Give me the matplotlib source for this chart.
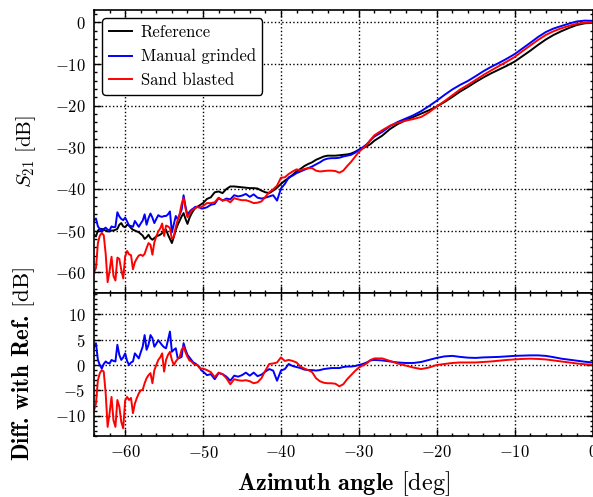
import numpy as np
import matplotlib
matplotlib.use("Agg")
import matplotlib.pyplot as plt
from matplotlib.ticker import MultipleLocator

plt.rcParams['font.family'] = 'serif'
plt.rcParams['font.serif'] = ['cmr10']
plt.rcParams['mathtext.fontset'] = 'cm'
plt.rcParams['axes.formatter.use_mathtext'] = True
plt.rcParams['axes.unicode_minus'] = True

# azimuth grid: fine in the noisy part, coarse where it is smooth
angle = np.concatenate([np.arange(-64, -49.99, 0.25),
                        np.arange(-49.5, -27.99, 0.5),
                        np.arange(-27, 0.01, 1.0)])

# reference S21 [dB]
s21_ref = [
    -51.0, -51.4, -50.0, -49.6,
    -49.6, -49.8, -50.0, -50.2,
    -50.2, -50.0, -50.0, -49.8,
    -49.6, -48.6, -48.2, -49.0,
    -49.2, -48.6, -48.8, -49.4,
    -49.8, -50.0, -50.2, -50.4,
    -50.8, -51.2, -52.0, -51.6,
    -51.0, -51.8, -52.2, -51.8,
    -51.4, -51.2, -51.0, -50.6,
    -50.0, -49.8, -51.0, -52.0,
    -53.0, -51.5, -49.8, -48.6,
    -47.6, -46.6, -45.8, -47.2,
    -48.4, -47.0, -46.0, -45.2,
    -44.6, -44.3, -44.0, -43.7,
    -43.4,
    # -49.5 .. -28 (0.5 deg)
    -42.4, -42.0, -40.8, -40.6, -41.0, -40.0, -39.4, -39.4, -39.5, -39.6,
    -39.7, -39.8, -39.8, -39.9, -40.4, -40.8, -41.0, -40.4, -39.7, -38.8,
    -38.0, -37.4, -36.6, -35.8, -35.2, -34.5, -34.0, -33.6, -33.0, -32.6,
    -32.2, -32.0, -32.0, -32.0, -31.9, -31.8, -31.7, -31.5, -31.1, -30.6,
    -30.2, -29.8, -29.2, -28.4,
    # -27 .. 0 (1 deg)
    -27.2, -25.6, -24.4, -23.5, -22.7, -21.9, -21.1, -20.2, -19.1, -17.9,
    -16.6, -15.5, -14.3, -13.2, -12.2, -11.3, -10.4, -9.4, -8.1, -6.8,
    -5.4, -4.1, -3.0, -2.1, -1.3, -0.6, -0.2, -0.1,
]

# difference with reference, manual grinded [dB]
diff_manual = [
    3.5, 4.3, 1.0, 0.0,
    -0.7, 0.2, 0.7, 0.4,
    0.3, 1.0, 0.8, 0.7,
    4.0, 2.0, 1.0, 1.5,
    2.3, 0.8, 0.0, 0.5,
    0.7, 2.3, 1.8, 1.3,
    2.5, 3.6, 5.9, 3.0,
    4.0, 5.9, 5.3, 3.6,
    4.2, 4.9, 4.4, 3.9,
    3.5, 3.3, 4.9, 6.6,
    2.6, 3.0, 3.3, 1.3,
    1.4, 1.6, 4.3, 3.0,
    2.0, 1.5, 1.0, 0.5,
    0.3, 0.0, -0.3, -1.0,
    -1.3,
    -2.0, -1.8, -2.8, -1.6, -1.8, -2.3, -3.1, -2.1, -2.3, -2.0,
    -1.5, -2.1, -1.5, -2.2, -1.9, -1.3, -0.8, -1.1, -3.1, -1.1,
    -0.8, 0.2, -0.2, -0.4, -0.6, -0.9, -1.0, -1.0, -1.1, -1.0,
    -0.8, -0.7, -0.6, -0.6, -0.6, -0.4, -0.3, -0.3, -0.2, 0.0,
    0.2, 0.5, 0.9, 1.0,
    0.9, 0.7, 0.5, 0.4, 0.4, 0.6, 1.0, 1.4, 1.7, 1.8,
    1.6, 1.45, 1.4, 1.5, 1.55, 1.6, 1.7, 1.8, 1.85, 1.9,
    1.9, 1.8, 1.55, 1.25, 1.05, 0.85, 0.65, 0.5,
]

# difference with reference, sand blasted [dB]
diff_sand = [
    -9.0, -7.6, -3.0, -1.6,
    -1.0, -1.3, -5.6, -12.2,
    -9.5, -6.3, -10.9, -12.2,
    -6.9, -8.2, -11.2, -12.5,
    -7.0, -6.3, -6.9, -6.5,
    -9.5, -7.6, -6.5, -5.6,
    -5.0, -4.9, -3.6, -2.6,
    -2.0, -1.6, -3.6, -1.0,
    0.0, 1.0, 1.5, 2.3,
    -1.3, 1.0, 2.0, 2.6,
    1.0, 0.0, 0.7, 1.2,
    1.6, 3.0, 3.6, 2.5,
    1.6, 0.9, 0.7, 0.3,
    0.0, 0.0, -0.5, -0.7,
    -0.7,
    -1.0, -1.4, -2.4, -1.5, -1.8, -2.6, -3.8, -2.8, -3.0, -3.1,
    -3.0, -3.2, -3.6, -3.4, -2.6, -1.1, 0.2, 0.3, 0.5, 1.5,
    0.8, 1.0, 0.8, 0.5, -0.3, -0.7, -1.0, -1.4, -2.6, -3.2,
    -3.5, -3.6, -3.6, -3.7, -4.2, -3.8, -2.8, -2.0, -1.2, -0.5,
    -0.1, 0.3, 1.0, 1.3,
    1.3, 0.8, 0.3, -0.1, -0.5, -0.8, -0.5, 0.0, 0.2, 0.4,
    0.5, 0.5, 0.5, 0.6, 0.7, 0.85, 1.0, 1.1, 1.2, 1.25,
    1.2, 1.1, 0.9, 0.7, 0.5, 0.3, 0.15, 0.05,
]

s21_ref = np.array(s21_ref)
diff_manual = np.array(diff_manual)
diff_sand = np.array(diff_sand)
s21_manual = s21_ref + diff_manual
s21_sand = s21_ref + diff_sand

W, H = 593, 497
fig = plt.figure(figsize=(W / 100, H / 100), dpi=100)
left, right = 94 / W, 592.5 / W
ax1 = fig.add_axes([left, 1 - 293 / H, right - left, (293 - 10) / H])
ax2 = fig.add_axes([left, 1 - 436 / H, right - left, (436 - 293) / H], sharex=ax1)

lw = 1.4
ax1.plot(angle, s21_ref, color='black', lw=lw, label='Reference')
ax1.plot(angle, s21_manual, color='blue', lw=lw, label='Manual grinded')
ax1.plot(angle, s21_sand, color='red', lw=lw, label='Sand blasted')

ax2.plot(angle, diff_manual, color='blue', lw=lw)
ax2.plot(angle, diff_sand, color='red', lw=lw)

ax1.set_xlim(-64, 0)
ax1.set_ylim(-65, 3)
ax2.set_ylim(-14, 14.2)

ax1.xaxis.set_major_locator(MultipleLocator(10))
ax1.xaxis.set_minor_locator(MultipleLocator(2))
ax1.yaxis.set_major_locator(MultipleLocator(10))
ax1.yaxis.set_minor_locator(MultipleLocator(2))
ax2.yaxis.set_major_locator(MultipleLocator(5))
ax2.yaxis.set_minor_locator(MultipleLocator(1))

for ax in (ax1, ax2):
    ax.grid(True, which='major', color='black', linestyle=':', linewidth=1.0)
    ax.tick_params(which='both', direction='in', top=True, right=True,
                   labelsize=12, pad=6, width=1.0)
    ax.tick_params(which='major', length=5)
    ax.tick_params(which='minor', length=2.5)
    for sp in ax.spines.values():
        sp.set_linewidth(1.2)
ax1.tick_params(labelbottom=False)

ax1.set_ylabel(r'$S_{21}$ $[\mathrm{dB}]$', fontsize=15)
ax1.yaxis.set_label_coords(-0.113, 0.5)
ax2.set_ylabel(r'Diff. with Ref. $[\mathrm{dB}]$', fontsize=16.5, fontfamily='cmb10')
ax2.yaxis.set_label_coords(-0.115, 0.5)
ax2.set_xlabel(r'Azimuth angle $[\mathrm{deg}]$', fontsize=17.5, fontfamily='cmb10')
ax2.xaxis.set_label_coords(0.5, -0.23)

leg = ax1.legend(loc='upper left', fontsize=12, handlelength=1.4,
                 handletextpad=0.5, labelspacing=0.5, framealpha=1,
                 edgecolor='black', fancybox=True)
leg.get_frame().set_linewidth(1.0)

fig.savefig('out.png', dpi=100)
